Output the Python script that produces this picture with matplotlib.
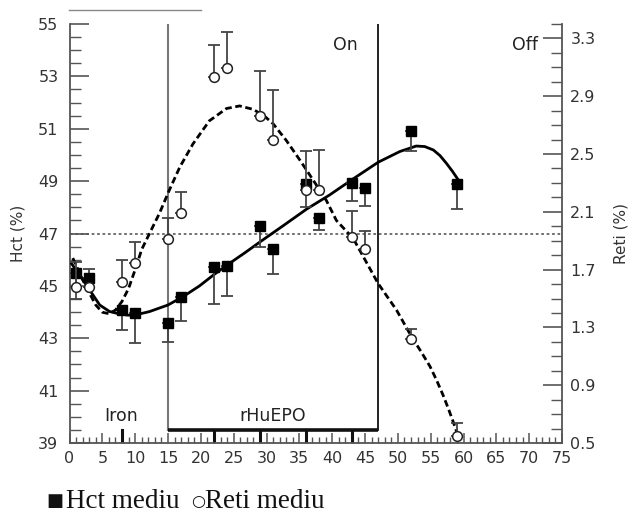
import matplotlib
matplotlib.use("Agg")
import matplotlib.pyplot as plt
from matplotlib.lines import Line2D
from matplotlib.ticker import MultipleLocator, FixedLocator

# ---------------- data ----------------
days = [1, 3, 8, 10, 15, 17, 22, 24, 29, 31, 36, 38, 43, 45, 52, 59]

hct = [45.5, 45.3, 44.06, 43.96, 43.6, 44.57, 45.71, 45.76, 47.29, 46.4,
       48.88, 47.6, 48.92, 48.75, 50.93, 48.88]
hct_err_lo = [1.0, 0.0, 0.76, 1.16, 0.76, 0.93, 1.41, 1.16, 0.79, 0.95,
              0.85, 0.46, 0.68, 0.70, 0.77, 0.94]
hct_err_hi = [0.0, 0.36, 0.0, 0.0, 0.0, 0.0, 0.0, 0.0, 0.0, 0.0,
              0.0, 0.0, 0.0, 0.0, 0.0, 0.0]

reti = [1.58, 1.577, 1.616, 1.747, 1.91, 2.095, 3.036, 3.098, 2.763, 2.595,
        2.254, 2.25, 1.927, 1.842, 1.217, 0.548]
reti_err_hi = [0.17, 0.0, 0.154, 0.143, 0.15, 0.145, 0.22, 0.25, 0.31, 0.35,
               0.27, 0.28, 0.18, 0.124, 0.07, 0.09]

# fitted curves
hct_fit_x = [0.3, 0.8, 2.0, 3.05, 4.6, 6.1, 7.6, 9.0, 10.2, 12.2, 15.0, 17.3,
             19.8, 22.1, 24.2, 26.8, 29.3, 32.5, 36.1, 39.6, 43.1, 47.0,
             50.3, 52.8, 54.1, 55.4, 56.4, 57.4, 58.3, 59.2]
hct_fit_y = [45.85, 45.68, 45.25, 44.85, 44.27, 44.02, 43.93, 43.88, 43.9,
             44.02, 44.27, 44.59, 45.0, 45.45, 45.83, 46.28, 46.73, 47.29,
             47.93, 48.47, 49.07, 49.72, 50.13, 50.34, 50.32, 50.19, 49.98,
             49.68, 49.38, 49.05]

reti_fit_x = [0.5, 2.0, 3.0, 4.0, 5.0, 6.0, 7.0, 8.0, 9.0, 10.0, 11.0, 12.4,
              13.7, 15.2, 16.8, 18.8, 21.3, 23.9, 25.9, 27.9, 29.5, 31.0,
              33.0, 35.1, 37.1, 39.1, 40.65, 43.2, 47.0, 49.8, 52.1, 53.5,
              54.9, 55.9, 56.9, 57.8, 58.7, 59.3]
reti_fit_y = [1.78, 1.63, 1.54, 1.455, 1.405, 1.395, 1.42, 1.48, 1.57, 1.70,
              1.84, 1.97, 2.09, 2.25, 2.41, 2.57, 2.73, 2.815, 2.833, 2.81,
              2.77, 2.71, 2.595, 2.457, 2.32, 2.18, 2.04, 1.916, 1.604, 1.42,
              1.235, 1.135, 1.03, 0.935, 0.83, 0.725, 0.613, 0.53]

x_ticks = list(range(0, 76, 5))
hct_ticks = [39, 41, 43, 45, 47, 49, 51, 53, 55]
reti_ticks = [0.5, 0.9, 1.3, 1.7, 2.1, 2.5, 2.9, 3.3]
week_marks = [8, 22, 29, 36, 43]
epo_start, epo_end = 15, 47
ref_hct = 47

# ---------------- figure ----------------
W, H = 632, 513
fig = plt.figure(figsize=(W / 100, H / 100), dpi=100)
left, right = 69.5 / W, 562 / W
bottom, top = 1 - 443 / H, 1 - 24 / H
ax = fig.add_axes([left, bottom, right - left, top - bottom])
ax2 = ax.twinx()

FONT = "DejaVu Sans"
AX_COL = "#555555"
TXT_COL = "#333333"

ax.set_xlim(0, 75)
ax.set_ylim(39, 55)
ax2.set_ylim(0.5, 3.4)

for a in (ax, ax2):
    a.spines["top"].set_visible(False)
    for s in a.spines.values():
        s.set_color(AX_COL)
        s.set_linewidth(1.3)
ax.spines["right"].set_visible(False)
ax2.spines["left"].set_visible(False)
ax2.spines["bottom"].set_visible(False)

ax.xaxis.set_major_locator(FixedLocator(x_ticks))
ax.xaxis.set_minor_locator(MultipleLocator(1))
ax.yaxis.set_major_locator(FixedLocator(hct_ticks))
ax.yaxis.set_minor_locator(MultipleLocator(0.5))
ax2.yaxis.set_major_locator(FixedLocator(reti_ticks))
ax2.yaxis.set_minor_locator(MultipleLocator(0.1))

ax.tick_params(axis="x", which="major", direction="in", length=7, width=1.1,
               color=AX_COL, labelsize=11.5, labelcolor=TXT_COL, pad=6)
ax.tick_params(axis="x", which="minor", direction="in", length=4, width=1.0,
               color=AX_COL)
ax.tick_params(axis="y", which="major", direction="in", length=14, width=1.2,
               color=AX_COL, labelsize=11.5, labelcolor=TXT_COL, pad=8)
ax.tick_params(axis="y", which="minor", direction="in", length=8, width=1.0,
               color=AX_COL)
ax2.tick_params(axis="y", which="major", direction="in", length=14, width=1.2,
                color=AX_COL, labelsize=11.5, labelcolor=TXT_COL, pad=6)
ax2.tick_params(axis="y", which="minor", direction="in", length=8, width=1.0,
                color=AX_COL)
ax.set_xticklabels([str(t) for t in x_ticks], fontfamily=FONT)
ax.set_yticklabels([str(t) for t in hct_ticks], fontfamily=FONT)
ax2.set_yticklabels([f"{t:.1f}" for t in reti_ticks], fontfamily=FONT)

ax.set_ylabel("Hct (%)", fontsize=11, color=TXT_COL, fontfamily=FONT, labelpad=9)
ax2.set_ylabel("Reti (%)", fontsize=11, color=TXT_COL, fontfamily=FONT,
               rotation=90, labelpad=13)

# reference lines and treatment markers
ax.axhline(ref_hct, color="#666666", lw=1.3, ls=(0, (1.5, 1.5)), zorder=1)
ax.plot([epo_start, epo_start], [39.5, 55], color="#777777", lw=1.5, zorder=1)
ax.plot([epo_end, epo_end], [39.5, 55], color="#111111", lw=1.3, zorder=1)
ax.plot([epo_start, epo_end], [39.5, 39.5], color="#111111", lw=2.6,
        solid_capstyle="butt", zorder=2)
for w in week_marks:
    ax.plot([w, w], [39, 39.5], color="#111111", lw=2.2, zorder=2)

ax.text(42, 54.2, "On", fontsize=12.5, color="#222222", ha="center",
        va="center", fontfamily=FONT)
ax.text(69.3, 54.2, "Off", fontsize=12.5, color="#222222", ha="center",
        va="center", fontfamily=FONT)
ax.text(7.9, 40.05, "Iron", fontsize=12.5, color="#222222", ha="center",
        va="center", fontfamily=FONT)
ax.text(31, 40.05, "rHuEPO", fontsize=12.5, color="#222222", ha="center",
        va="center", fontfamily=FONT)

# Hct: curve, error bars, squares
ax.plot(hct_fit_x, hct_fit_y, color="black", lw=2.0, zorder=3)
ax.errorbar(days, hct, yerr=[hct_err_lo, hct_err_hi], fmt="none",
            ecolor="#444444", elinewidth=1.3, capsize=4.5, capthick=1.3,
            zorder=4)
ax.plot(days, hct, ls="none", marker="s", ms=7.5, mfc="black", mec="black",
        zorder=5)

# Reti: curve, error bars, circles
ax2.plot(reti_fit_x, reti_fit_y, color="black", lw=2.0, ls=(0, (2.4, 1.3)),
         zorder=3)
ax2.errorbar(days, reti, yerr=[[0] * len(reti), reti_err_hi], fmt="none",
             ecolor="#444444", elinewidth=1.3, capsize=4.5, capthick=1.3,
             zorder=4)
ax2.plot(days, reti, ls="none", marker="o", ms=7, mfc="white", mec="#222222",
         mew=1.1, zorder=5)

# stray rule above the plot
fig.add_artist(Line2D([69 / W, 201 / W], [1 - 10 / H, 1 - 10 / H],
                      color="#888888", lw=1.0))

# legend line (serif)
base = 1 - 508 / H
fig.text(46 / W, 1 - 506 / H, "\u25a0", fontsize=13, color="#111111",
         ha="left", va="baseline", family=["DejaVu Sans"])
fig.text(66 / W, base, "Hct mediu", fontsize=19.5, color="#111111",
         ha="left", va="baseline", family=["Liberation Serif", "DejaVu Serif"])
fig.text(191 / W, 1 - 506 / H, "\u25cb", fontsize=11.5, color="#111111",
         ha="left", va="baseline", family=["DejaVu Sans"])
fig.text(205 / W, base, "Reti mediu", fontsize=19.5, color="#111111",
         ha="left", va="baseline", family=["Liberation Serif", "DejaVu Serif"])

fig.savefig("out.png", dpi=100)
